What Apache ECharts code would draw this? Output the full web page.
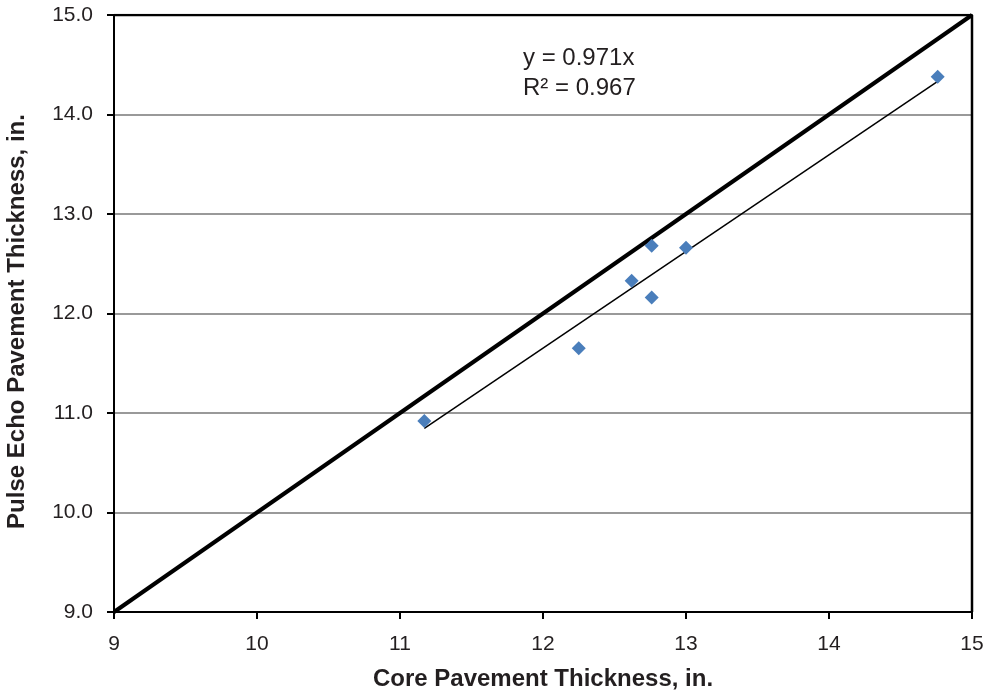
<!DOCTYPE html>
<html>
<head>
<meta charset="utf-8">
<script src="https://cdn.jsdelivr.net/npm/echarts@6/dist/echarts.min.js"></script>
<style>
  html, body { margin: 0; padding: 0; background: #fff; }
  #chart { width: 990px; height: 694px; }
</style>
</head>
<body>
<div id="chart"></div>
<script>
// Core vs. pulse-echo pavement thickness (inches)
const coreThickness = [11.17, 12.25, 12.62, 12.76, 12.76, 13.0, 14.76];
const pulseEchoThickness = [10.92, 11.65, 12.33, 12.68, 12.16, 12.66, 14.38];

// Linear fit through the origin
const trendSlope = 0.971;
const trendLabel = ['y = 0.971x', 'R² = 0.967'];

// Line of equality
const equalityLine = [[9, 9], [15, 15]];

// Axis ranges
const xRange = [9, 15];
const yRange = [9, 15];

const points = coreThickness.map((x, i) => [x, pulseEchoThickness[i]]);
const xMin = Math.min(...coreThickness);
const xMax = Math.max(...coreThickness);
const trendLine = [[xMin, trendSlope * xMin], [xMax, trendSlope * xMax]];

const textColor = '#231f20';
const font = '"Liberation Sans", Arial, Helvetica, sans-serif';

const chart = echarts.init(document.getElementById('chart'));
chart.setOption({
  backgroundColor: '#ffffff',
  animation: false,
  grid: {
    left: 114, right: 18, top: 15, bottom: 82, show: false,
    containLabel: false, outerBoundsMode: 'none'
  },
  xAxis: {
    type: 'value',
    min: xRange[0], max: xRange[1], interval: 1,
    name: 'Core Pavement Thickness, in.',
    nameLocation: 'middle', nameGap: 55,
    nameTextStyle: { fontFamily: font, fontSize: 24, fontWeight: 'bold', color: textColor },
    axisLine: { show: true, lineStyle: { color: '#000', width: 2 } },
    axisTick: { show: true, length: 7, lineStyle: { color: '#000', width: 2 } },
    axisLabel: { fontFamily: font, fontSize: 21, color: textColor, margin: 22 },
    splitLine: { show: false }
  },
  yAxis: {
    type: 'value',
    min: yRange[0], max: yRange[1], interval: 1,
    name: 'Pulse Echo Pavement Thickness, in.',
    nameLocation: 'middle', nameGap: 85,
    nameTextStyle: {
      fontFamily: font, fontSize: 24, fontWeight: 'bold', color: textColor,
      padding: [0, 16, 0, 0]
    },
    axisLine: { show: true, lineStyle: { color: '#000', width: 2 } },
    axisTick: { show: true, length: 7, lineStyle: { color: '#000', width: 2 } },
    axisLabel: {
      fontFamily: font, fontSize: 21, color: textColor, margin: 21,
      formatter: v => v.toFixed(1)
    },
    splitLine: { show: true, lineStyle: { color: '#999999', width: 2 } }
  },
  series: [
    {
      // Plot frame: top and right borders
      type: 'line',
      data: [[9, 15], [15, 15], [15, 9]],
      symbol: 'none',
      lineStyle: { color: '#000', width: 2.5 },
      silent: true,
      z: 5
    },
    {
      type: 'line',
      data: equalityLine,
      symbol: 'none',
      lineStyle: { color: '#000', width: 4 },
      z: 3
    },
    {
      type: 'line',
      data: trendLine,
      symbol: 'none',
      lineStyle: { color: '#000', width: 1.5 },
      z: 3
    },
    {
      type: 'scatter',
      data: points,
      symbol: 'diamond',
      symbolSize: 14,
      itemStyle: { color: '#4a7ebb', opacity: 1 },
      z: 4
    }
  ],
  graphic: [
    {
      type: 'text',
      left: 523, top: 43,
      style: {
        text: trendLabel.join('\n'),
        font: '24px ' + font,
        fill: textColor,
        lineHeight: 30
      }
    }
  ]
});
</script>
</body>
</html>
